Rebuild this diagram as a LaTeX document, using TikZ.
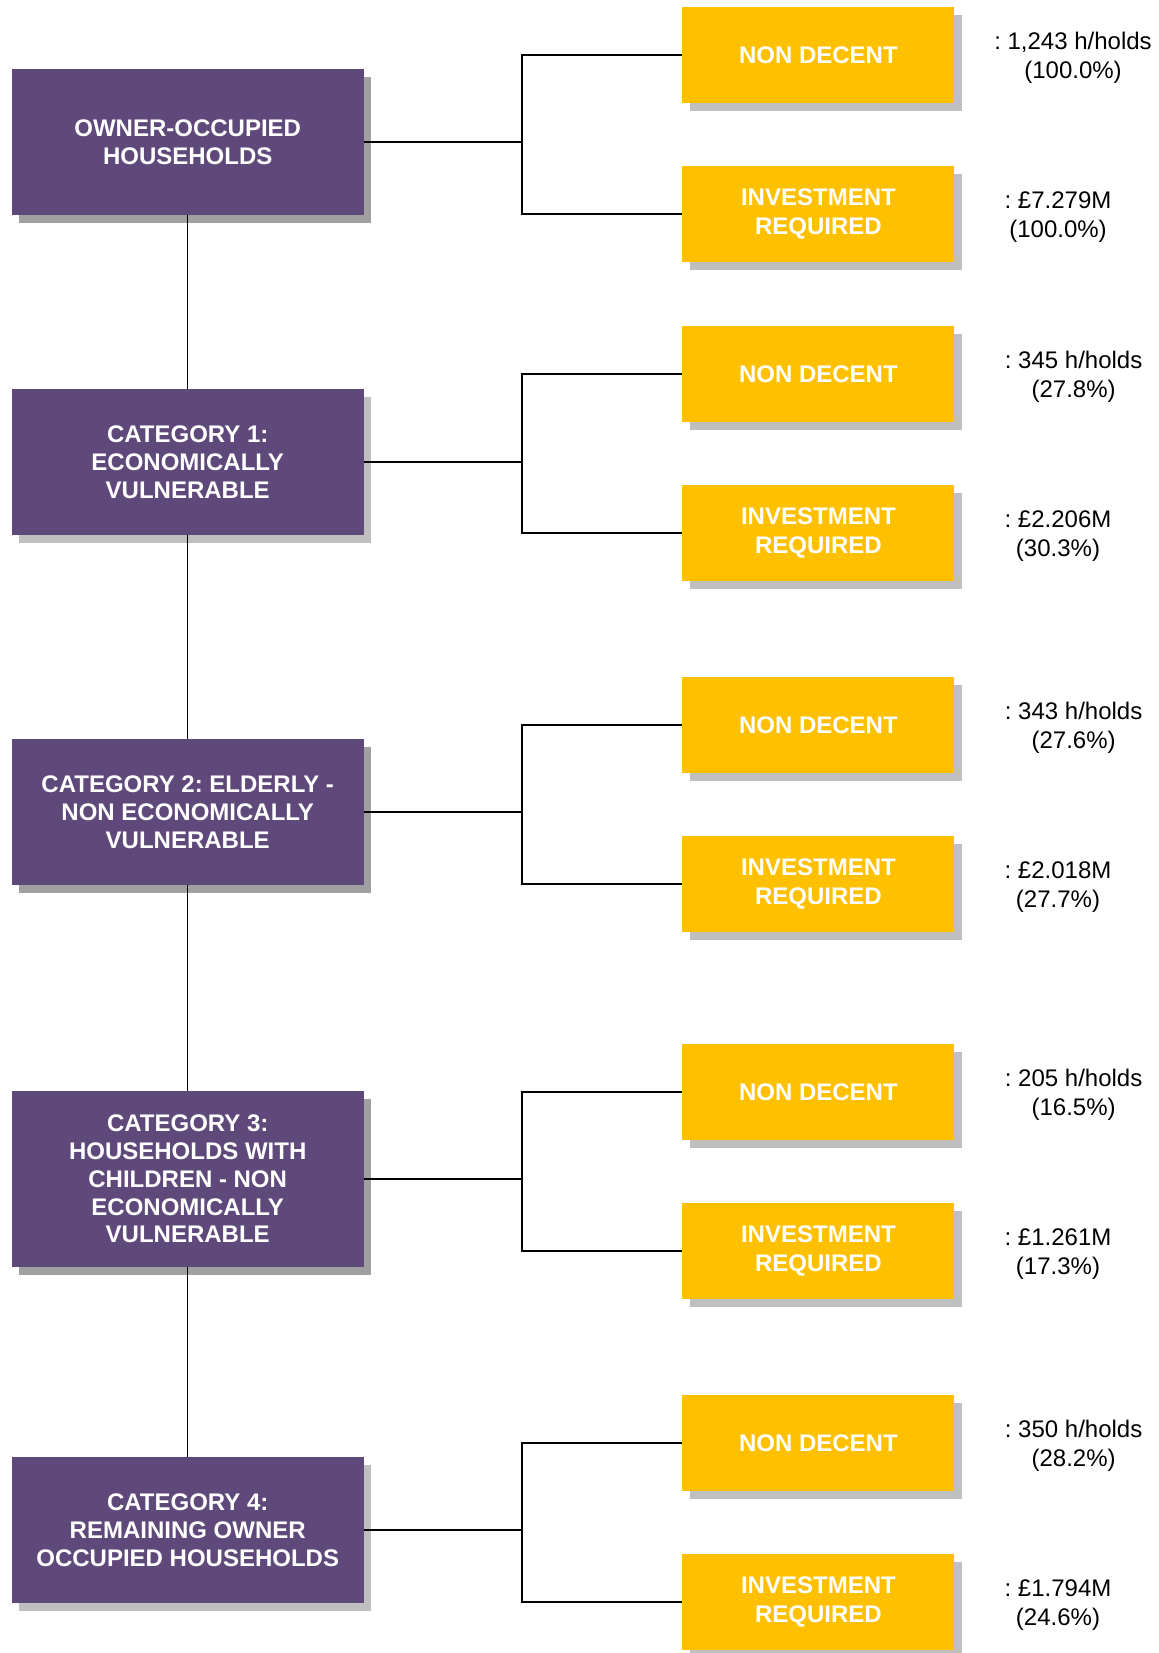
\documentclass[tikz,border=0pt]{standalone}
\usepackage{fontspec}
\setmainfont{Liberation Sans}
\usetikzlibrary{shadows}
\definecolor{catpurple}{RGB}{95,73,122}
\definecolor{resyellow}{RGB}{255,192,0}
\definecolor{shadelight}{RGB}{191,191,191}
\definecolor{shadedark}{RGB}{160,160,160}

\begin{document}
\frenchspacing
\begin{tikzpicture}[x=0.75pt,y=-0.75pt,
  catbox/.style={fill=catpurple,text=white,align=center,inner sep=0pt,
    font=\fontsize{18}{20.8}\selectfont\bfseries,minimum width=264pt,minimum height=109pt,
    drop shadow={shadow xshift=5.6pt,shadow yshift=-6pt,fill=#1,opacity=1}},
  catbox/.default=shadedark,
  resbox/.style={fill=resyellow,text=white,align=center,inner sep=0pt,
    font=\fontsize{18}{22}\selectfont\bfseries,minimum width=204pt,minimum height=72pt,
    drop shadow={shadow xshift=5.6pt,shadow yshift=-6pt,fill=shadelight,opacity=1}},
  figtext/.style={align=center,inner sep=0pt,yshift=-2.25pt,font=\fontsize{18}{21.4}\selectfont},
  link/.style={line width=1pt,black}]
  \useasboundingbox (0,0) rectangle (1159,1653);
  % left column: households and categories
  \node[catbox] (p0) at (187.7,142) {OWNER-OCCUPIED\\HOUSEHOLDS};
  \node[catbox=shadelight] (p1) at (187.7,462) {CATEGORY 1:\\ECONOMICALLY\\VULNERABLE};
  \node[catbox] (p2) at (187.7,812) {CATEGORY 2: ELDERLY -\\NON ECONOMICALLY\\VULNERABLE};
  \node[catbox,minimum height=132pt] (p3) at (187.7,1179)
    {CATEGORY 3:\\HOUSEHOLDS WITH\\CHILDREN - NON\\ECONOMICALLY\\VULNERABLE};
  \node[catbox=shadelight] (p4) at (187.7,1530) {CATEGORY 4:\\REMAINING OWNER\\OCCUPIED HOUSEHOLDS};
  % right column: results
  \node[resbox] (nd0) at (818.4,55) {NON DECENT};
  \node[resbox] (ir0) at (818.4,214) {INVESTMENT\\REQUIRED};
  \node[resbox] (nd1) at (818.4,374) {NON DECENT};
  \node[resbox] (ir1) at (818.4,533) {INVESTMENT\\REQUIRED};
  \node[resbox] (nd2) at (818.4,725) {NON DECENT};
  \node[resbox] (ir2) at (818.4,884) {INVESTMENT\\REQUIRED};
  \node[resbox] (nd3) at (818.4,1092) {NON DECENT};
  \node[resbox] (ir3) at (818.4,1251) {INVESTMENT\\REQUIRED};
  \node[resbox] (nd4) at (818.4,1443) {NON DECENT};
  \node[resbox] (ir4) at (818.4,1602) {INVESTMENT\\REQUIRED};
  % figures
  \node[figtext] (v0a) at (1073,55) {: 1,243 h/holds\\(100.0\%)};
  \node[figtext] (v0b) at (1058,214) {: £7.279M\\(100.0\%)};
  \node[figtext] (v1a) at (1073.6,374) {: 345 h/holds\\(27.8\%)};
  \node[figtext] (v1b) at (1058,533) {: £2.206M\\(30.3\%)};
  \node[figtext] (v2a) at (1073.6,725) {: 343 h/holds\\(27.6\%)};
  \node[figtext] (v2b) at (1058,884) {: £2.018M\\(27.7\%)};
  \node[figtext] (v3a) at (1073.6,1092) {: 205 h/holds\\(16.5\%)};
  \node[figtext] (v3b) at (1058,1251) {: £1.261M\\(17.3\%)};
  \node[figtext] (v4a) at (1073.6,1443) {: 350 h/holds\\(28.2\%)};
  \node[figtext] (v4b) at (1058,1602) {: £1.794M\\(24.6\%)};
  % spine
  \draw[link] (p0) -- (p1);
  \draw[link] (p1) -- (p2);
  \draw[link] (p2) -- (p3);
  \draw[link] (p3) -- (p4);
  % branches
  \foreach \i/\y in {0/142,1/462,2/812,3/1179,4/1530} {
    \coordinate (b\i) at (522,\y);
    \draw[link] (p\i.east) -- (b\i);
    \draw[link] (nd\i.west) -| (b\i) |- (ir\i.west);
  }
\end{tikzpicture}
\end{document}
